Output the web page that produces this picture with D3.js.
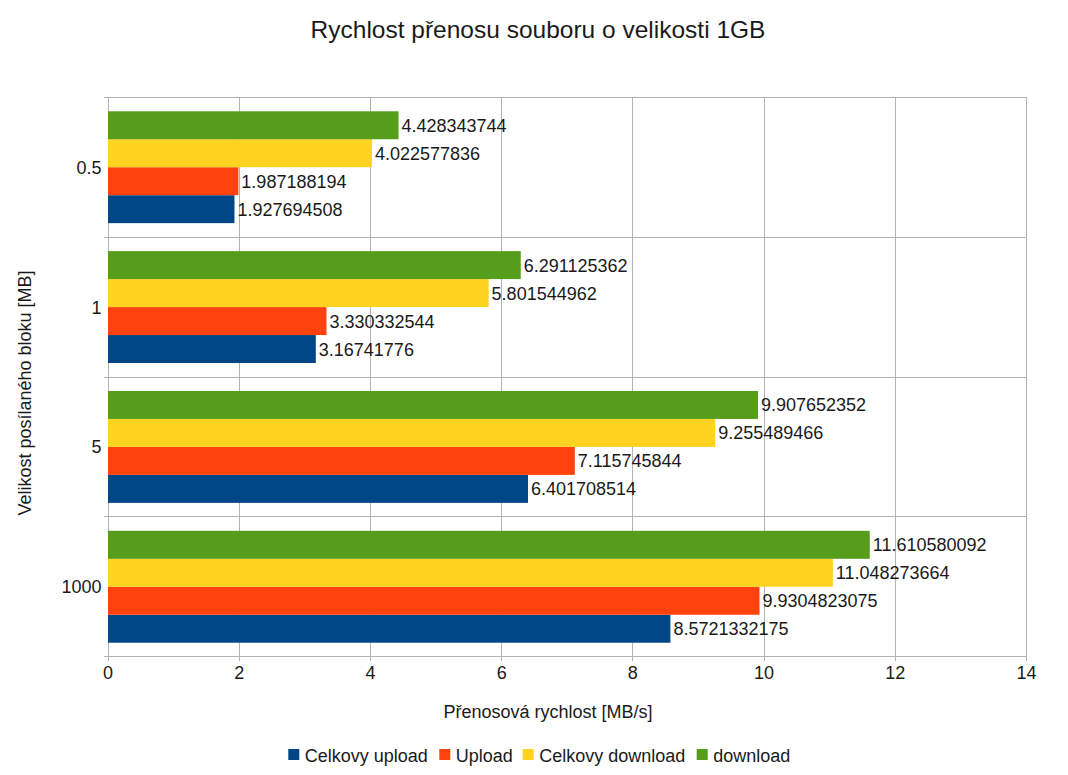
<!DOCTYPE html>
<html><head><meta charset="utf-8">
<script src="https://cdn.jsdelivr.net/npm/d3@7"></script>
<style>body{margin:0;background:#fff}svg{display:block}text{font-family:"Liberation Sans",Arial,sans-serif}</style>
</head><body>
<svg id="c" width="1068" height="775"></svg>
<script>
const categories = ["0.5", "1", "5", "1000"];
const seriesNames = ["Celkovy upload", "Upload", "Celkovy download", "download"];
const celkovyUpload = [1.927694508, 3.16741776, 6.401708514, 8.5721332175];
const upload = [1.987188194, 3.330332544, 7.115745844, 9.9304823075];
const celkovyDownload = [4.022577836, 5.801544962, 9.255489466, 11.048273664];
const download = [4.428343744, 6.291125362, 9.907652352, 11.610580092];
const labels = [
  ["1.927694508", "3.16741776", "6.401708514", "8.5721332175"],
  ["1.987188194", "3.330332544", "7.115745844", "9.9304823075"],
  ["4.022577836", "5.801544962", "9.255489466", "11.048273664"],
  ["4.428343744", "6.291125362", "9.907652352", "11.610580092"]
];
const xTicks = [0, 2, 4, 6, 8, 10, 12, 14];
const colors = ["#004586", "#ff420e", "#ffd320", "#579d1c"];
const values = [celkovyUpload, upload, celkovyDownload, download];

const svg = d3.select("#c");
const L = 108, R = 1026.5, T = 97.3, B = 656.7;
const txt = "#1a1a1a";
const x = d3.scaleLinear().domain([0, 14]).range([L, R]);
const y = d3.scaleBand().domain(categories).range([T, B]).paddingInner(0.2).paddingOuter(0.1);
// draw order top->bottom: download, Celkovy download, Upload, Celkovy upload
const inner = d3.scaleBand().domain([3, 2, 1, 0]).range([0, y.bandwidth()]);

const grid = svg.append("g").attr("stroke", "#b3b3b3").attr("stroke-width", 1).attr("shape-rendering", "crispEdges");
xTicks.forEach(t => grid.append("line").attr("x1", x(t)).attr("x2", x(t)).attr("y1", T).attr("y2", B + 4));
const bounds = categories.map(c => y(c) - y.step() * y.paddingInner() / 2);
bounds.push(B);
bounds[0] = T;
bounds.forEach(b => grid.append("line").attr("x1", L - 4).attr("x2", R).attr("y1", b).attr("y2", b));

values.forEach((vals, si) => {
  const g = svg.append("g");
  vals.forEach((v, ci) => {
    const y0 = y(categories[ci]) + inner(si);
    g.append("rect").attr("x", x(0)).attr("y", y0).attr("width", x(v) - x(0)).attr("height", inner.bandwidth())
      .attr("fill", colors[si]);
    svg.append("text").attr("x", x(v) + 3).attr("y", y0 + inner.bandwidth() / 2 + 6.5)
      .attr("font-size", 18).attr("fill", txt).text(labels[si][ci]);
  });
});

xTicks.forEach(t => svg.append("text").attr("x", x(t)).attr("y", 678.5).attr("text-anchor", "middle").attr("font-size", 18).attr("fill", txt).text(t));
categories.forEach(c => svg.append("text").attr("x", 101.5).attr("y", y(c) + y.bandwidth() / 2 + 6.5).attr("text-anchor", "end").attr("font-size", 18).attr("fill", txt).text(c));

svg.append("text").attr("x", 538).attr("y", 38.3).attr("text-anchor", "middle").attr("font-size", 24.5).attr("fill", txt).text("Rychlost přenosu souboru o velikosti 1GB");
svg.append("text").attr("x", 548).attr("y", 718.3).attr("text-anchor", "middle").attr("font-size", 18).attr("fill", txt).text("Přenosová rychlost [MB/s]");
svg.append("text").attr("transform", "translate(31,393) rotate(-90)").attr("text-anchor", "middle").attr("font-size", 18).attr("fill", txt).text("Velikost posílaného bloku [MB]");

const legX = [288.3, 439.3, 522.7, 696.7];
seriesNames.forEach((n, i) => {
  svg.append("rect").attr("x", legX[i]).attr("y", 749).attr("width", 11).attr("height", 11).attr("fill", colors[i]);
  svg.append("text").attr("x", legX[i] + 16.5).attr("y", 761.5).attr("font-size", 18).attr("fill", txt).text(n);
});
</script>
</body></html>
